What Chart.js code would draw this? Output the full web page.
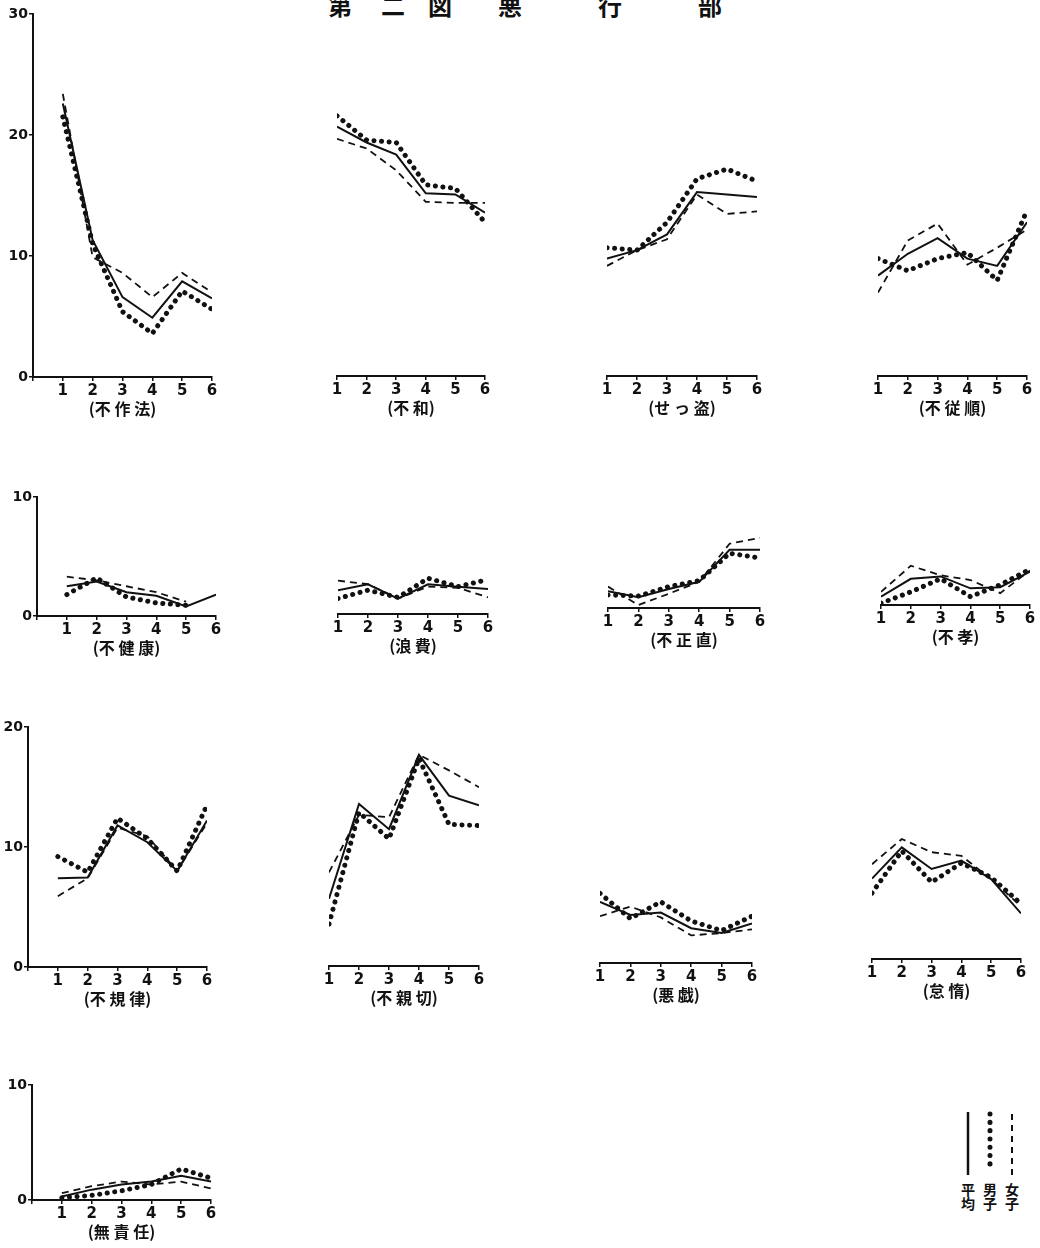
<!DOCTYPE html>
<html>
<head>
<meta charset="utf-8">
<script src="https://cdn.jsdelivr.net/npm/chart.js@4"></script>
<style>
  body { margin: 0; background: #fff; }
  #page { position: relative; width: 1040px; height: 1248px; overflow: hidden; background: #fff; }
  #page canvas { position: absolute; }
  .ttl { position: absolute; top: -13px; font: bold 24px "Noto Sans CJK JP"; color: #111; }
  .leg { position: absolute; top: 1183px; font: bold 14px "Noto Sans CJK JP"; color: #111;
         writing-mode: vertical-rl; line-height: 15px; }
</style>
</head>
<body>
<div id="page">
  <span class="ttl" style="left:328px">第</span>
  <span class="ttl" style="left:381px">二</span>
  <span class="ttl" style="left:428px">図</span>
  <span class="ttl" style="left:498px">悪</span>
  <span class="ttl" style="left:598px">行</span>
  <span class="ttl" style="left:698px">部</span>

  <svg style="position:absolute;left:955px;top:1105px" width="70" height="80">
    <line x1="13" y1="7" x2="13" y2="70" stroke="#111" stroke-width="2.5"/>
    <line x1="35" y1="9" x2="35" y2="67" stroke="#111" stroke-width="5" stroke-linecap="round" stroke-dasharray="0.1 8.2"/>
    <line x1="57" y1="9" x2="57" y2="70" stroke="#111" stroke-width="2" stroke-dasharray="6 5"/>
  </svg>
  <span class="leg" style="left:960px">平均</span>
  <span class="leg" style="left:982px">男子</span>
  <span class="leg" style="left:1004px">女子</span>
</div>

<script>
// ---- data ----
var gradeLabels = [1, 2, 3, 4, 5, 6];
var categories = ['不作法', '不和', 'せっ盗', '不従順',
                  '不健康', '浪費', '不正直', '不孝',
                  '不規律', '不親切', '悪戯', '怠惰',
                  '無責任'];
var seriesNames = ['平均', '男子', '女子'];

// 平均 (solid)
var avgData = [
  [22.6, 11.3, 6.6, 4.9, 7.9, 6.5],
  [20.6, 19.3, 18.3, 15.1, 15.0, 13.5],
  [9.7, 10.4, 11.7, 15.2, 15.0, 14.8],
  [8.3, 10.1, 11.4, 9.7, 9.1, 12.7],
  [2.5, 2.9, 2.0, 1.7, 0.8, 1.8],
  [2.0, 2.5, 1.3, 2.5, 2.3, 2.1],
  [1.4, 0.9, 1.6, 2.2, 4.9, 4.9],
  [0.7, 2.2, 2.4, 1.4, 1.5, 2.8],
  [7.4, 7.45, 11.8, 10.4, 8.0, 12.2],
  [5.6, 13.5, 11.4, 17.6, 14.2, 13.4],
  [5.1, 4.0, 4.2, 2.9, 2.5, 3.3],
  [6.7, 9.3, 7.5, 8.2, 6.65, 3.8],
  [0.3, 0.9, 1.35, 1.6, 2.1, 1.6]
];
// 男子 (dotted)
var boysData = [
  [21.5, 11.0, 5.4, 3.6, 7.1, 5.6],
  [21.5, 19.5, 19.3, 15.8, 15.5, 12.7],
  [10.6, 10.4, 12.7, 16.3, 17.1, 16.1],
  [9.7, 8.7, 9.7, 10.2, 7.9, 13.7],
  [1.8, 3.2, 1.6, 1.1, 0.9, null],
  [1.3, 2.0, 1.4, 3.0, 2.3, 2.9],
  [1.1, 1.0, 1.8, 2.3, 4.6, 4.2],
  [0.15, 1.1, 2.2, 0.7, 1.7, 3.0],
  [9.2, 7.9, 12.4, 10.7, 8.0, 13.5],
  [3.5, 12.8, 10.6, 17.3, 11.8, 11.7],
  [5.8, 3.7, 5.1, 3.5, 2.7, 3.9],
  [5.5, 9.0, 6.4, 8.0, 6.8, 4.6],
  [0.2, 0.4, 0.8, 1.35, 2.7, 1.9]
];
// 女子 (dashed)
var girlsData = [
  [23.4, 9.9, 8.6, 6.6, 8.6, 7.0],
  [19.6, 18.8, 17.0, 14.4, 14.3, 14.3],
  [9.1, 10.4, 11.3, 15.0, 13.4, 13.6],
  [6.9, 11.2, 12.6, 9.2, 10.6, 12.1],
  [3.3, 3.0, 2.5, 2.0, 1.2, null],
  [2.8, 2.5, 1.3, 2.3, 2.2, 1.4],
  [1.8, 0.25, 1.2, 2.2, 5.4, 5.9],
  [1.1, 3.3, 2.5, 2.1, 1.0, 2.9],
  [5.9, 7.4, 11.6, 10.9, 8.0, 12.0],
  [7.8, 12.6, 12.4, 17.6, 16.3, 14.9],
  [3.9, 4.7, 3.8, 2.3, 2.5, 2.8],
  [7.9, 10.0, 8.9, 8.6, 6.65, 4.4],
  [0.6, 1.2, 1.6, 1.35, 1.6, 1.0]
];
var rowMax = [30, 10, 20, 10];

// ---- layout (pixels) ----
var rowPx = [12.1, 11.9, 12.0, 11.5];   // px per unit in each row
// [x of grade 1, x of grade 6, baseline y, row, has y axis]
var panels = [
  [63, 212, 377, 0, true], [337, 485, 376, 0, false], [607, 757, 376, 0, false], [878, 1027, 376, 0, false],
  [67, 216, 616, 1, true], [338, 488, 614, 1, false], [608, 760, 608, 1, false], [881, 1030, 605, 1, false],
  [58, 207, 967, 2, true], [329, 479, 966, 2, false], [600, 752, 963, 2, false], [872, 1021, 959, 2, false],
  [62, 211, 1200, 3, true]
];

var tickFont = { family: 'DejaVu Sans', size: 15, weight: 'bold' };
var ink = '#111';
var Y_W = 30, X_H = 44;

panels.forEach(function (p, i) {
  var x1 = p[0], x6 = p[1], base = p[2], row = p[3], hasY = p[4];
  var unit = (x6 - x1) / 5;
  var xmin = hasY ? 0 : 1;
  var plotLeft = x1 - (1 - xmin) * unit;
  var plotTop = base - rowMax[row] * rowPx[row];
  var padL = hasY ? 2 : 9, padR = 11, padT = 10;
  var left = plotLeft - (hasY ? Y_W : 0) - padL;
  var top = plotTop - padT;
  var w = Math.round(x6 + padR - left);
  var h = Math.round(base + X_H - top);

  var cv = document.createElement('canvas');
  cv.width = w; cv.height = h;
  cv.style.left = Math.round(left) + 'px';
  cv.style.top = Math.round(top) + 'px';
  cv.style.width = w + 'px'; cv.style.height = h + 'px';
  document.getElementById('page').appendChild(cv);

  var pts = function (arr) {
    return arr.map(function (v, k) { return { x: gradeLabels[k], y: v }; });
  };

  new Chart(cv.getContext('2d'), {
    type: 'line',
    data: {
      datasets: [
        { label: seriesNames[0], data: pts(avgData[i]), borderColor: ink, borderWidth: 2, pointRadius: 0, tension: 0 },
        { label: seriesNames[1], data: pts(boysData[i]), borderColor: ink, borderWidth: 5, borderCapStyle: 'round',
          borderDash: [0.1, 7.5], pointRadius: 0, tension: 0 },
        { label: seriesNames[2], data: pts(girlsData[i]), borderColor: ink, borderWidth: 1.8,
          borderDash: [7, 5], pointRadius: 0, tension: 0 }
      ]
    },
    options: {
      responsive: false,
      animation: false,
      layout: { padding: { left: padL, right: padR, top: padT, bottom: 0 } },
      plugins: { legend: { display: false }, tooltip: { enabled: false } },
      scales: {
        x: {
          type: 'linear', min: xmin, max: 6,
          ticks: { stepSize: 1, color: ink, font: tickFont, padding: 1, maxRotation: 0,
                   callback: function (v) { return v === 0 ? '' : v; } },
          grid: { drawOnChartArea: false, drawTicks: true, tickLength: 4, color: ink, lineWidth: 1.5 },
          border: { display: true, color: ink, width: 2 },
          title: { display: true, text: '(' + categories[i].split('').join(' ') + ')', color: ink,
                   font: { family: 'Noto Sans CJK JP', size: 16, weight: 'bold' }, padding: { top: 0, bottom: 2 } },
          afterFit: function (s) { s.height = X_H; }
        },
        y: {
          display: hasY, min: 0, max: rowMax[row],
          ticks: { stepSize: 10, color: ink, font: { family: 'DejaVu Sans', size: 14, weight: 'bold' }, padding: 1 },
          grid: { drawOnChartArea: false, drawTicks: true, tickLength: 4, color: ink, lineWidth: 1.5 },
          border: { display: true, color: ink, width: 2 },
          afterFit: function (s) { if (hasY) s.width = Y_W; }
        }
      }
    }
  });
});
</script>
</body>
</html>
